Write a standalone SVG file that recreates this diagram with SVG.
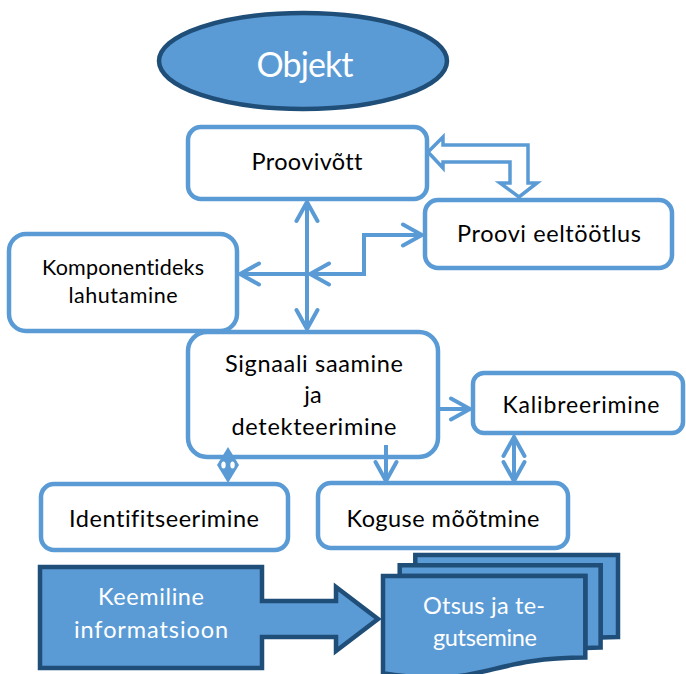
<svg xmlns="http://www.w3.org/2000/svg" width="686" height="674" viewBox="0 0 686 674">
  <style>
    .box { fill: #FFFFFF; stroke: #5B9BD5; stroke-width: 4.5; }
    .dark { fill: #5B9BD5; stroke: #1F4E79; stroke-width: 4.5; stroke-linejoin: miter; }
    .lbl, .wlbl { font-family: Lato, "Open Sans", "DejaVu Sans", sans-serif; text-anchor: middle; font-variant-ligatures: none; font-feature-settings: "liga" 0, "clig" 0; }
    .lbl { fill: #000000; }
    .wlbl { fill: #FFFFFF; }
    .conn { fill: none; stroke: #5B9BD5; stroke-width: 4; }
    .block { fill: #FFFFFF; stroke: #5B9BD5; stroke-width: 3.5; stroke-linejoin: miter; }
  </style>
  <defs>
    <marker id="chev" viewBox="-24 -14 28 28" refX="0" refY="0" markerWidth="28" markerHeight="28" markerUnits="userSpaceOnUse" orient="auto-start-reverse">
      <path d="M-19,-10.5 L0,0 L-19,10.5" fill="none" stroke="#5B9BD5" stroke-width="4" stroke-linecap="round" stroke-linejoin="miter"/>
    </marker>
  </defs>

  <g id="objekt">
    <ellipse class="dark" cx="303" cy="61" rx="144" ry="48" stroke-width="5"/>
    <text class="wlbl" x="305" y="77" font-size="34" textLength="97" lengthAdjust="spacing">Objekt</text>
  </g>

  <g id="proovivott">
    <rect class="box" x="188" y="127" width="239" height="72" rx="13"/>
    <text class="lbl" x="307" y="170" font-size="23.5" textLength="111" lengthAdjust="spacing">Proovivõtt</text>
  </g>

  <g id="eeltootlus">
    <rect class="box" x="425" y="200" width="247" height="68" rx="13"/>
    <text class="lbl" x="549" y="242" font-size="23.5" textLength="184" lengthAdjust="spacing">Proovi eeltöötlus</text>
  </g>

  <g id="komponentideks">
    <rect class="box" x="9" y="234" width="228" height="97" rx="17"/>
    <text class="lbl" x="123" y="275" font-size="21.5" textLength="162" lengthAdjust="spacing">Komponentideks</text>
    <text class="lbl" x="123" y="303" font-size="21.5" textLength="109" lengthAdjust="spacing">lahutamine</text>
  </g>

  <g id="signaal">
    <rect class="box" x="188" y="332" width="250" height="125" rx="19"/>
    <text class="lbl" x="314" y="372" font-size="23.5" textLength="178" lengthAdjust="spacing">Signaali saamine</text>
    <text class="lbl" x="313" y="403" font-size="23.5">ja</text>
    <text class="lbl" x="314" y="435" font-size="23.5" textLength="165" lengthAdjust="spacing">detekteerimine</text>
  </g>

  <g id="kalibreerimine">
    <rect class="box" x="473" y="373" width="210" height="60" rx="11"/>
    <text class="lbl" x="581" y="413" font-size="23" textLength="157" lengthAdjust="spacing">Kalibreerimine</text>
  </g>

  <g id="identifitseerimine">
    <rect class="box" x="41" y="484" width="247" height="66" rx="13"/>
    <text class="lbl" x="164" y="527" font-size="23.5" textLength="190" lengthAdjust="spacing">Identifitseerimine</text>
  </g>

  <g id="koguse">
    <rect class="box" x="318" y="483" width="250" height="65" rx="13"/>
    <text class="lbl" x="443" y="527" font-size="23.5" textLength="193" lengthAdjust="spacing">Koguse mõõtmine</text>
  </g>

  <g id="keemiline">
    <path class="dark" d="M40,567 L262,567 L262,601 L336,601 L336,587 L378,619 L336,651 L336,637 L262,637 L262,668 L40,668 Z"/>
    <text class="wlbl" x="151" y="605" font-size="23.5" textLength="106" lengthAdjust="spacing">Keemiline</text>
    <text class="wlbl" x="151" y="638" font-size="23.5" textLength="154" lengthAdjust="spacing">informatsioon</text>
  </g>

  <g id="otsus">
    <path class="dark" d="M415.3,565.3 L415.3,555 L618,555 L618,637 C609.3,637 600.6,637.4 600.6,637.4 L600.6,565.3 Z"/>
    <path class="dark" d="M399.7,576 L399.7,565.3 L600.6,565.3 L600.6,647.5 C593,647.5 585.3,648.1 585.3,648.1 L585.3,576 Z"/>
    <path class="dark" d="M383,576 L585.3,576 L585.3,657.6 C484.2,657.6 484.2,689.1 383,673.3 Z"/>
    <text class="wlbl" x="484" y="614" font-size="23.5" textLength="122" lengthAdjust="spacing">Otsus ja te-</text>
    <text class="wlbl" x="485" y="646" font-size="23.5" textLength="104" lengthAdjust="spacing">gutsemine</text>
  </g>

  <!-- connectors, drawn over the node outlines -->
  <g id="connectors">
    <path class="conn" d="M307,202 L307,329" marker-start="url(#chev)" marker-end="url(#chev)"/>
    <path class="conn" d="M307,274 L240,274" marker-end="url(#chev)"/>
    <path class="conn" d="M310,274 L364,274 L364,235 L422,235" marker-start="url(#chev)" marker-end="url(#chev)"/>
    <path class="conn" d="M438,409 L470,409" marker-end="url(#chev)"/>
    <path class="conn" d="M386,445 L386,481" marker-end="url(#chev)"/>
    <!-- short two-way link: heads overlap into a diamond -->
    <g id="short-link">
      <path d="M228,447 L239,465 L228,483 L217,465 Z" fill="#5B9BD5"/>
      <ellipse cx="223.5" cy="465" rx="2.2" ry="3.6" fill="#FFFFFF"/>
      <ellipse cx="232.5" cy="465" rx="2.2" ry="3.6" fill="#FFFFFF"/>
    </g>
    <path class="conn" d="M514,437 L514,481" marker-start="url(#chev)" marker-end="url(#chev)"/>
    <!-- bent outline arrow between sampling and pretreatment -->
    <path class="block" d="M428,152 L443,137 L443,145 L528,145 L528,183 L537,183 L519,197 L500,183 L510,183 L510,162 L443,162 L443,168 Z"/>
  </g>
</svg>
